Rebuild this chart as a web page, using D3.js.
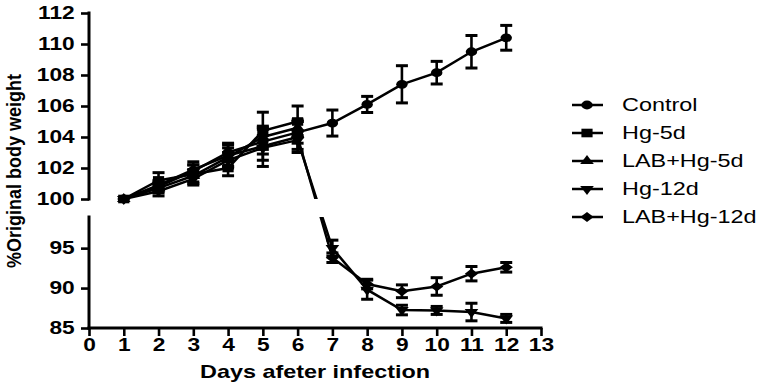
<!DOCTYPE html>
<html>
<head>
<meta charset="utf-8">
<script src="https://cdn.jsdelivr.net/npm/d3@7"></script>
<style>
  body { margin: 0; background: #fff; }
  text { font-family: "Liberation Sans", Arial, sans-serif; fill: #000; }
</style>
</head>
<body>
<svg width="765" height="387"></svg>
<script>
// data (mean, SEM)
const days = [1, 2, 3, 4, 5, 6, 7, 8, 9, 10, 11, 12];
const seriesNames = ["Control", "Hg-5d", "LAB+Hg-5d", "Hg-12d", "LAB+Hg-12d"];

const control    = [100, 100.8, 101.8, 103.0, 103.7, 104.3, 104.9, 106.1, 107.4, 108.15, 109.5, 110.4];
const controlErr = [0, 0.3, 0.4, 0.6, 0.8, 0.7, 0.84, 0.52, 1.2, 0.73, 1.05, 0.8];
const hg5        = [100, 101.2, 101.6, 102.0, 104.4, 105.0];
const hg5Err     = [0, 0.5, 0.6, 0.5, 1.2, 1.0];
const lab5       = [100, 100.7, 101.5, 102.7, 104.0, 104.6];
const lab5Err    = [0, 0.3, 0.4, 0.6, 0.6, 0.5];
const hg12       = [100, 100.5, 101.3, 102.5, 103.3, 103.8, 95.0, 89.8, 87.25, 87.2, 87.0, 86.2];
const hg12Err    = [0, 0.3, 0.4, 0.5, 0.8, 0.6, 1.0, 1.2, 0.6, 0.5, 1.1, 0.5];
const lab12      = [100, 100.9, 101.9, 102.8, 103.4, 104.0, 93.8, 90.5, 89.6, 90.2, 91.8, 92.6];
const lab12Err   = [0, 0.3, 0.5, 0.7, 1.3, 1.0, 0.6, 0.6, 0.8, 1.1, 0.9, 0.6];

const upperTicks = [100, 102, 104, 106, 108, 110, 112];
const lowerTicks = [85, 90, 95];
const xTicks = [0, 1, 2, 3, 4, 5, 6, 7, 8, 9, 10, 11, 12, 13];

const series = [
  {name: seriesNames[0], vals: control, err: controlErr, sym: "circle"},
  {name: seriesNames[1], vals: hg5, err: hg5Err, sym: "square"},
  {name: seriesNames[2], vals: lab5, err: lab5Err, sym: "up"},
  {name: seriesNames[3], vals: hg12, err: hg12Err, sym: "down"},
  {name: seriesNames[4], vals: lab12, err: lab12Err, sym: "diamond"}
];

const svg = d3.select("svg");
const SX = 1.3; // the figure is stretched sideways

// broken y axis: 85-99 below, 100-112 above
const x = d3.scaleLinear().domain([0, 13]).range([89, 541]);
const y = d3.scaleLinear().domain([85, 98.9, 100, 112]).range([328, 217, 199, 13]);

// clip so lines disappear in the break
const defs = svg.append("defs");
const cp = defs.append("clipPath").attr("id", "brk");
cp.append("rect").attr("x", 0).attr("y", 0).attr("width", 765).attr("height", 199);
cp.append("rect").attr("x", 0).attr("y", 217).attr("width", 765).attr("height", 170);

// axes
function styleAxis(g) {
  g.select(".domain").remove();
  g.selectAll(".tick line").attr("stroke", "#000").attr("stroke-width", 2.6);
  g.selectAll(".tick text")
    .attr("font-size", 17.5).attr("font-weight", "bold")
    .attr("font-family", "Liberation Sans, Arial, sans-serif")
    .attr("transform", `scale(${SX},1)`);
}

svg.append("g").attr("transform", "translate(89,0)")
  .call(d3.axisLeft(y).tickValues(upperTicks).tickSize(8).tickPadding(3).tickFormat(d3.format("d")))
  .call(styleAxis);
svg.append("g").attr("transform", "translate(89,0)")
  .call(d3.axisLeft(y).tickValues(lowerTicks).tickSize(8).tickPadding(3).tickFormat(d3.format("d")))
  .call(styleAxis);
svg.append("g").attr("transform", "translate(0,328)")
  .call(d3.axisBottom(x).tickValues(xTicks).tickSize(8).tickPadding(3).tickFormat(d3.format("d")))
  .call(styleAxis);

// axis lines
const axisLines = [
  [x(0), y(100), x(0), y(112)],
  [x(0), y(85), x(0), y(98.9)],
  [x(0), y(85), x(13), y(85)]
];
svg.selectAll("line.axis").data(axisLines).enter().append("line")
  .attr("class", "axis")
  .attr("x1", d => d[0]).attr("y1", d => d[1])
  .attr("x2", d => d[2]).attr("y2", d => d[3])
  .attr("stroke", "#000").attr("stroke-width", 3)
  .attr("stroke-linecap", "square");

// titles
svg.append("text")
  .attr("transform", "translate(21,171) rotate(-90) scale(1,1.15)")
  .attr("text-anchor", "middle")
  .attr("font-size", 18).attr("font-weight", "bold")
  .text("%Original body weight");

svg.append("text")
  .attr("transform", `translate(315,378) scale(${SX},1)`)
  .attr("text-anchor", "middle")
  .attr("font-size", 18).attr("font-weight", "bold")
  .text("Days afeter infection");

// marker shapes
function marker(g, sym) {
  if (sym === "circle") {
    g.append("circle").attr("r", 4.4);
  } else if (sym === "square") {
    g.append("path").attr("d", d3.symbol(d3.symbolSquare, 74)());
  } else if (sym === "up") {
    g.append("path").attr("d", d3.symbol(d3.symbolTriangle, 48)());
  } else if (sym === "down") {
    g.append("path").attr("d", d3.symbol(d3.symbolTriangle, 48)()).attr("transform", "rotate(180)");
  } else {
    g.append("path").attr("d", d3.symbol(d3.symbolSquare, 52)()).attr("transform", "rotate(45)");
  }
  g.selectAll("*").attr("fill", "#000");
}

const line = d3.line().x(d => x(d.day)).y(d => y(d.v));

series.forEach(s => {
  const pts = s.vals.map((v, i) => ({day: days[i], v: v, e: s.err[i]}));
  const g = svg.append("g");

  g.append("path").datum(pts)
    .attr("d", line)
    .attr("clip-path", "url(#brk)")
    .attr("fill", "none").attr("stroke", "#000").attr("stroke-width", 2.5);

  // error bars
  const eb = g.selectAll("g.eb").data(pts.filter(p => p.e > 0)).enter().append("g");
  eb.append("line")
    .attr("x1", d => x(d.day)).attr("x2", d => x(d.day))
    .attr("y1", d => y(d.v - d.e)).attr("y2", d => y(d.v + d.e))
    .attr("stroke", "#000").attr("stroke-width", 2.6);
  [-1, 1].forEach(sgn => {
    eb.append("line")
      .attr("x1", d => x(d.day) - 6).attr("x2", d => x(d.day) + 6)
      .attr("y1", d => y(d.v + sgn * d.e)).attr("y2", d => y(d.v + sgn * d.e))
      .attr("stroke", "#000").attr("stroke-width", 3);
  });

  g.selectAll("g.mk").data(pts).enter().append("g")
    .attr("transform", d => `translate(${x(d.day)},${y(d.v)}) scale(${SX},1)`)
    .each(function() { marker(d3.select(this), s.sym); });
});

// legend
const legendY = [105, 133, 161, 189, 217];
const lg = svg.selectAll("g.legend").data(series).enter().append("g")
  .attr("transform", (d, i) => `translate(0,${legendY[i]})`);
lg.append("line").attr("x1", 572).attr("x2", 603)
  .attr("stroke", "#000").attr("stroke-width", 2.5);
lg.append("g").attr("transform", `translate(587,0) scale(${SX},1)`)
  .each(function(d) { marker(d3.select(this), d.sym); });
lg.append("text")
  .attr("transform", `translate(622,0) scale(${SX},1)`)
  .attr("dy", "0.35em")
  .attr("font-size", 18)
  .text(d => d.name);
</script>
</body>
</html>
